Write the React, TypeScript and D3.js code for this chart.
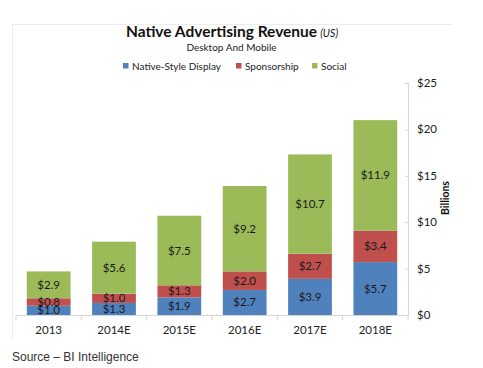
import React from "react";
import * as d3 from "d3";

const categories = ["2013", "2014E", "2015E", "2016E", "2017E", "2018E"];
const seriesNames = ["Native-Style Display", "Sponsorship", "Social"];
const nativeDisplay = [1.0, 1.3, 1.9, 2.7, 3.9, 5.7];
const sponsorship = [0.8, 1.0, 1.3, 2.0, 2.7, 3.4];
const social = [2.9, 5.6, 7.5, 9.2, 10.7, 11.9];
const yTicks = [0, 5, 10, 15, 20, 25];
const colors = ["#4F81BD", "#C0504D", "#9BBB59"];

const W = 483;
const H = 368;
const font = "Lato, 'Open Sans', sans-serif";

export default function App() {
  const x = d3.scaleBand<string>().domain(categories).range([16, 408]).paddingInner(0.33).paddingOuter(0.165);
  const y = d3.scaleLinear().domain([0, 25]).range([315, 83]);
  const rows = categories.map((c, i) => ({ cat: c, s0: nativeDisplay[i], s1: sponsorship[i], s2: social[i] }));
  const stack = d3.stack<any>().keys(["s0", "s1", "s2"])(rows);
  const step = (408 - 16) / categories.length;
  const bounds = d3.range(categories.length + 1).map((i) => 16 + i * step);

  return (
    <svg width={W} height={H} style={{ position: "absolute", left: 0, top: 0, background: "#fff" }}>
      <rect x={0} y={0} width={W} height={H} fill="#fff" />
      <line x1={12} x2={452} y1={24.5} y2={24.5} stroke="#ececec" />
      <line x1={12.5} x2={12.5} y1={24} y2={338} stroke="#ececec" />
      <text x={232} y={37} textAnchor="middle" fontFamily={font} fontSize={15.5} fontWeight="bold" fill="#111">
        Native Advertising Revenue
        <tspan fontStyle="italic" fontWeight="normal" fontSize={10.5} dx={3}>(US)</tspan>
      </text>
      <text x={231.5} y={51} textAnchor="middle" fontFamily={font} fontSize={10} fill="#222">
        Desktop And Mobile
      </text>
      {[
        { x: 123, t: seriesNames[0] },
        { x: 236, t: seriesNames[1] },
        { x: 312, t: seriesNames[2] },
      ].map((l, i) => (
        <g key={i}>
          <rect x={l.x} y={63} width={5.5} height={5.5} fill={colors[i]} />
          <text x={l.x + 9} y={70} fontFamily={font} fontSize={10} fill="#222">
            {l.t}
          </text>
        </g>
      ))}
      {stack.map((s, si) => (
        <g key={si}>
          {s.map((d: any, i: number) => (
            <rect key={i} x={x(categories[i])} y={y(d[1])} width={x.bandwidth()} height={y(d[0]) - y(d[1])} fill={colors[si]} />
          ))}
        </g>
      ))}
      {stack.map((s, si) => (
        <g key={"l" + si}>
          {s.map((d: any, i: number) => (
            <text
              key={i}
              x={(x(categories[i]) as number) + x.bandwidth() / 2}
              y={(y(d[0]) + y(d[1])) / 2 + 4}
              textAnchor="middle"
              fontFamily={font}
              fontSize={11.5}
              fill="#1a1a1a"
            >
              {"$" + (d[1] - d[0]).toFixed(1)}
            </text>
          ))}
        </g>
      ))}
      <line x1={16} x2={408} y1={315.5} y2={315.5} stroke="#d6d6d6" />
      {bounds.map((b, i) => (
        <line key={i} x1={b} x2={b} y1={315} y2={320} stroke="#d6d6d6" />
      ))}
      <line x1={408.5} x2={408.5} y1={83} y2={316} stroke="#d6d6d6" />
      {yTicks.map((t) => (
        <g key={t}>
          <line x1={405} x2={408} y1={y(t) + 0.5} y2={y(t) + 0.5} stroke="#d6d6d6" />
          <text x={417} y={y(t) + 4} fontFamily={font} fontSize={11.5} fill="#222">
            {"$" + t}
          </text>
        </g>
      ))}
      <text transform="translate(449,198) rotate(-90)" textAnchor="middle" fontFamily={font} fontSize={10.5} fontWeight="bold" fill="#111">
        Billions
      </text>
      {categories.map((c) => (
        <text key={c} x={(x(c) as number) + x.bandwidth() / 2} y={334} textAnchor="middle" fontFamily={font} fontSize={11.5} fill="#222">
          {c}
        </text>
      ))}
      <text x={12} y={361} fontFamily="'Liberation Sans', Arial, sans-serif" fontSize={12} fill="#333">
        Source – BI Intelligence
      </text>
    </svg>
  );
}
